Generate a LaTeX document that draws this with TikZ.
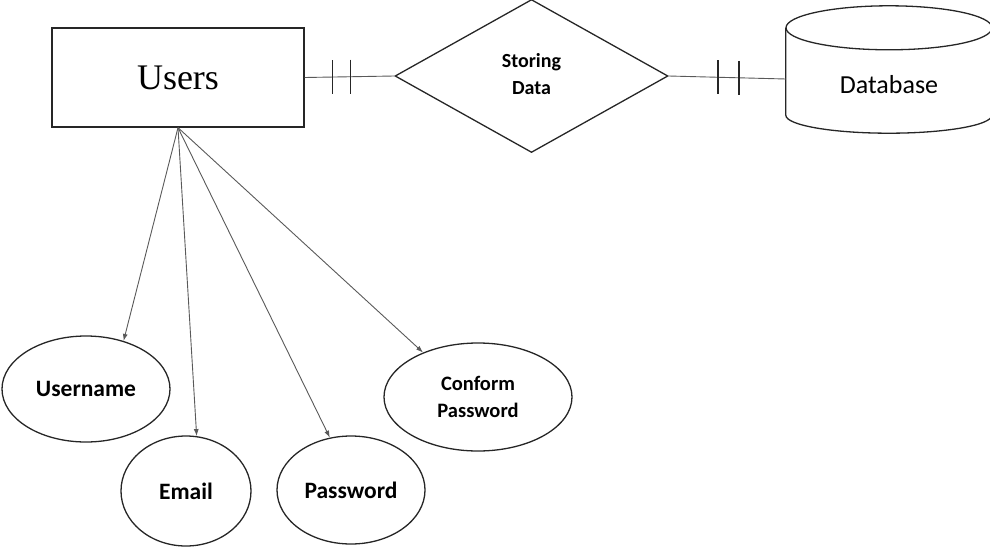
\documentclass[tikz,border=0pt]{standalone}
\usepackage{fontspec}
\setmainfont{Carlito}
\newfontfamily\usersfont{Liberation Serif}
\usetikzlibrary{shapes,arrows.meta,calc}

\begin{document}
\begin{tikzpicture}[x=1pt, y=-1pt]
    \tikzstyle{entity} = [rectangle, draw=black!85, line width=1.3pt, minimum width=252pt, minimum height=99pt, inner sep=0pt]
    \tikzstyle{relation} = [diamond, draw=black!85, line width=1.3pt, minimum width=273pt, minimum height=153pt, inner sep=0pt]
    \tikzstyle{store} = [rectangle, minimum width=206pt, minimum height=87pt, inner sep=0pt, text height=44pt, text depth=0pt]
    \tikzstyle{outline} = [draw=black!85, line width=1.3pt]
    \tikzstyle{attribute} = [ellipse, draw=black!85, line width=1.3pt, inner sep=0pt, align=center, font=\bfseries\fontsize{23.5}{27}\selectfont]
    \tikzstyle{link} = [draw=black!65, line width=0.9pt]
    \tikzstyle{bar} = [draw=black!85, line width=1.3pt]
    \tikzstyle{arrow} = [draw=black!65, line width=0.9pt, -{Latex[length=7pt, width=5pt]}]

    \useasboundingbox (0,0) rectangle (990,546);

    % Entity, relation, store
    \node[entity, font=\usersfont\fontsize{36}{40}\selectfont] (users) at (178,77.5) {Users};
    \node[relation, font=\bfseries\fontsize{20}{27}\selectfont] (storing) at (531.5,76)
        {\raisebox{4pt}{\begin{tabular}{@{}c@{}}Storing\\Data\end{tabular}}};
    \node[store, font=\fontsize{26}{30}\selectfont] (database) at (889,71.5) {Database};
    \draw[outline] (database.north west) -- (database.south west)
        arc[start angle=180, end angle=360, x radius=103pt, y radius=18pt] -- (database.north east);
    \draw[outline] (database.north) ellipse [x radius=103pt, y radius=22pt];

    % Attributes
    \node[attribute, minimum width=168pt, minimum height=106pt] (username) at (86,389) {Username};
    \node[attribute, minimum width=130pt, minimum height=110pt] (email) at (186,491) {Email};
    \node[attribute, minimum width=148pt, minimum height=108pt] (password) at (351,490) {Password};
    \node[attribute, minimum width=188pt, minimum height=108pt, font=\bfseries\fontsize{20.5}{27}\selectfont] (conform) at (478,397) {Conform\\Password};

    % Links
    \draw[link] (users.east) -- (storing.west);
    \draw[link] (storing.east) -- ([yshift=-7.5pt]database.west);
    \foreach \f in {0.31,0.51}
        \draw[bar] ($(users.east)!\f!(storing.west)$) ++(0,-17) -- ++(0,34);
    \foreach \f in {0.42,0.60}
        \draw[bar] ($(storing.east)!\f!([yshift=-7.5pt]database.west)$) ++(0,-17) -- ++(0,34);

    % Attribute arrows
    \foreach \t/\a in {username/52, email/79, password/112, conform/141}
        \draw[arrow] (users.south) -- (\t.\a);
\end{tikzpicture}
\end{document}
